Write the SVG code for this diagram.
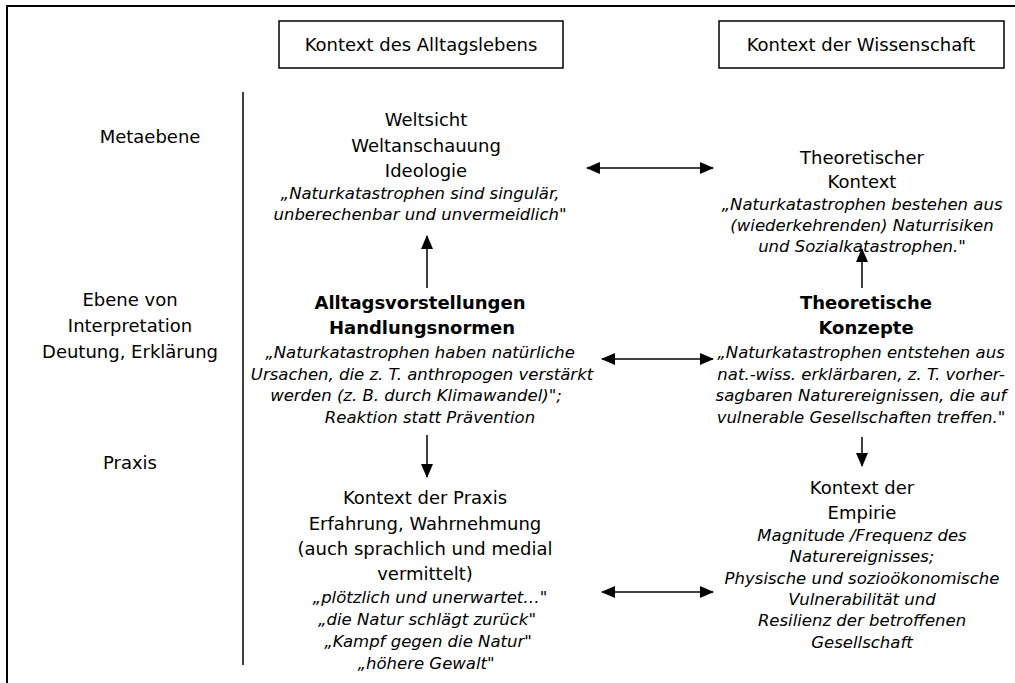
<svg xmlns="http://www.w3.org/2000/svg" width="1015" height="683" viewBox="0 0 1015 683">
<defs>
<marker id="ah" viewBox="0 0 14 12" refX="13" refY="6" markerWidth="14" markerHeight="12" markerUnits="userSpaceOnUse" orient="auto-start-reverse">
<path d="M0,0 L14,6 L0,12 Z" fill="#000"/>
</marker>
</defs>
<style>
text{font-family:"DejaVu Sans",Verdana,sans-serif;fill:#000;text-anchor:middle}
.n{font-size:18px}
.b{font-size:18px;font-weight:bold}
.i{font-size:16.5px;font-style:italic}
.frame{fill:none;stroke:#000;stroke-width:2}
.box{fill:#fff;stroke:#000;stroke-width:1.5}
.con line{stroke:#000;stroke-width:1.5}
</style>
<rect width="1015" height="683" fill="#fff"/>
<g id="frame">
<path class="frame" d="M7,683 L7,6 L1015,6"/>
<line x1="243" y1="92" x2="243" y2="665" stroke="#000" stroke-width="1.5"/>
</g>
<g id="header-alltag">
<rect class="box" x="279" y="21" width="284" height="47"/>
<text class="n" x="421" y="51">Kontext des Alltagslebens</text>
</g>
<g id="header-wissenschaft">
<rect class="box" x="719" y="21" width="285" height="47"/>
<text class="n" x="861" y="51">Kontext der Wissenschaft</text>
</g>
<g id="label-meta">
<text class="n" x="150" y="143">Metaebene</text>
</g>
<g id="label-interpretation">
<text class="n" x="130" y="306">Ebene von</text>
<text class="n" x="130" y="332">Interpretation</text>
<text class="n" x="130" y="358">Deutung, Erklärung</text>
</g>
<g id="label-praxis">
<text class="n" x="130" y="469">Praxis</text>
</g>
<g id="weltsicht">
<text class="n" x="426" y="126">Weltsicht</text>
<text class="n" x="426" y="152">Weltanschauung</text>
<text class="n" x="426" y="177">Ideologie</text>
<text class="i" x="420" y="199">„Naturkatastrophen sind singulär,</text>
<text class="i" x="420" y="220">unberechenbar und unvermeidlich"</text>
</g>
<g id="alltagsvorstellungen">
<text class="b" x="420" y="309">Alltagsvorstellungen</text>
<text class="b" x="422" y="334">Handlungsnormen</text>
<text class="i" x="420" y="358">„Naturkatastrophen haben natürliche</text>
<text class="i" x="422" y="380">Ursachen, die z. T. anthropogen verstärkt</text>
<text class="i" x="416" y="401">werden (z. B. durch Klimawandel)";</text>
<text class="i" x="430" y="423">Reaktion statt Prävention</text>
</g>
<g id="praxis">
<text class="n" x="425" y="504">Kontext der Praxis</text>
<text class="n" x="425" y="530">Erfahrung, Wahrnehmung</text>
<text class="n" x="425" y="555">(auch sprachlich und medial</text>
<text class="n" x="425" y="580">vermittelt)</text>
<text class="i" x="430" y="603">„plötzlich und unerwartet…"</text>
<text class="i" x="427" y="625">„die Natur schlägt zurück"</text>
<text class="i" x="428" y="647">„Kampf gegen die Natur"</text>
<text class="i" x="426" y="669">„höhere Gewalt"</text>
</g>
<g id="theoretischer-kontext">
<text class="n" x="862" y="164">Theoretischer</text>
<text class="n" x="862" y="188">Kontext</text>
<text class="i" x="862" y="210">„Naturkatastrophen bestehen aus</text>
<text class="i" x="862" y="231">(wiederkehrenden) Naturrisiken</text>
<text class="i" x="862" y="252">und Sozialkatastrophen."</text>
</g>
<g id="theoretische-konzepte">
<text class="b" x="866" y="309">Theoretische</text>
<text class="b" x="866" y="334">Konzepte</text>
<text class="i" x="861" y="358">„Naturkatastrophen entstehen aus</text>
<text class="i" x="861" y="380">nat.-wiss. erklärbaren, z. T. vorher-</text>
<text class="i" x="861" y="401">sagbaren Naturereignissen, die auf</text>
<text class="i" x="861" y="423">vulnerable Gesellschaften treffen."</text>
</g>
<g id="empirie">
<text class="n" x="862" y="494">Kontext der</text>
<text class="n" x="862" y="519">Empirie</text>
<text class="i" x="862" y="541">Magnitude /Frequenz des</text>
<text class="i" x="862" y="562">Naturereignisses;</text>
<text class="i" x="862" y="584">Physische und sozioökonomische</text>
<text class="i" x="862" y="605">Vulnerabilität und</text>
<text class="i" x="862" y="626">Resilienz der betroffenen</text>
<text class="i" x="862" y="648">Gesellschaft</text>
</g>
<g id="connectors" class="con">
<line x1="587" y1="168" x2="713" y2="168" marker-start="url(#ah)" marker-end="url(#ah)"/>
<line x1="602" y1="359" x2="713" y2="359" marker-start="url(#ah)" marker-end="url(#ah)"/>
<line x1="602" y1="592" x2="713" y2="592" marker-start="url(#ah)" marker-end="url(#ah)"/>
<line x1="427" y1="288" x2="427" y2="236" marker-end="url(#ah)"/>
<line x1="427" y1="435" x2="427" y2="477" marker-end="url(#ah)"/>
<line x1="862" y1="288" x2="862" y2="249" marker-end="url(#ah)"/>
<line x1="862" y1="437" x2="862" y2="466" marker-end="url(#ah)"/>
</g>
</svg>
